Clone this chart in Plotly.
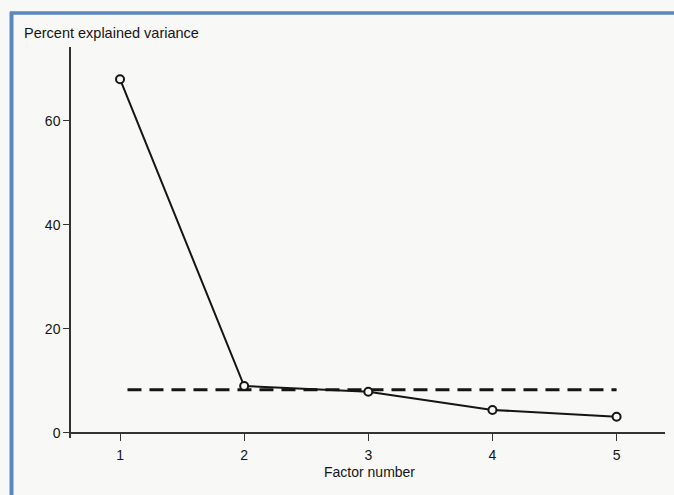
import plotly.graph_objects as go

factors = [1, 2, 3, 4, 5]
variance = [68.0, 9.0, 7.9, 4.4, 3.1]
cutoff_x = [1.06, 5.0]
cutoff_y = [8.3, 8.3]
y_ticks = [0, 20, 40, 60]

W, H = 674, 495
ML, MR, MT, MB = 71, 9, 47, 57
pw, ph = W - ML - MR, H - MT - MB

def px_x(p):
    return (p - ML) / pw

def px_y(p):
    return (H - MB - p) / ph

bg = "#f8f8f6"
ink = "#151515"
fig = go.Figure()
fig.add_trace(go.Scatter(x=cutoff_x, y=cutoff_y, mode="lines",
                         line=dict(color=ink, width=3, dash="14px,8px"),
                         hoverinfo="skip", showlegend=False))
fig.add_trace(go.Scatter(x=factors, y=variance, mode="lines+markers",
                         line=dict(color=ink, width=2),
                         marker=dict(symbol="circle", size=8, color=bg,
                                     line=dict(color=ink, width=2)),
                         showlegend=False))

yr = [-1.0, 74.2]
fig.update_layout(
    width=W, height=H,
    margin=dict(l=ML, r=MR, t=MT, b=MB),
    paper_bgcolor=bg, plot_bgcolor=bg,
    font=dict(family="Liberation Sans, Arial, sans-serif", size=14, color=ink),
    xaxis=dict(range=[0.605, 5.39], tickvals=factors, showgrid=False, zeroline=False,
               showline=True, linecolor="#333", linewidth=1.5,
               ticks="outside", ticklen=7, tickcolor="#333",
               ticklabelstandoff=3, tickfont=dict(size=14, color=ink),
               anchor="free", position=(0 - yr[0]) / (yr[1] - yr[0])),
    yaxis=dict(range=yr, tickvals=y_ticks, showgrid=False, zeroline=False,
               showline=True, linecolor="#333", linewidth=1.5,
               ticks="outside", ticklen=6, tickcolor="#333",
               tickfont=dict(size=14, color=ink)),
    annotations=[
        dict(text="Percent explained variance", xref="paper", yref="paper",
             x=px_x(22), y=px_y(33), xanchor="left", yanchor="middle",
             showarrow=False, font=dict(size=14.5, color=ink)),
        dict(text="Factor number", xref="paper", yref="paper",
             x=px_x(369), y=px_y(472), xanchor="center", yanchor="middle",
             showarrow=False, font=dict(size=14, color=ink)),
    ],
    shapes=[
        dict(type="line", xref="paper", yref="paper", x0=px_x(11.5), x1=px_x(11.5),
             y0=px_y(12), y1=px_y(500), line=dict(color="#5b86be", width=4)),
        dict(type="line", xref="paper", yref="paper", x0=px_x(10), x1=px_x(680),
             y0=px_y(13), y1=px_y(13), line=dict(color="#5b86be", width=3.5)),
    ],
)
fig.write_html("out.html")
